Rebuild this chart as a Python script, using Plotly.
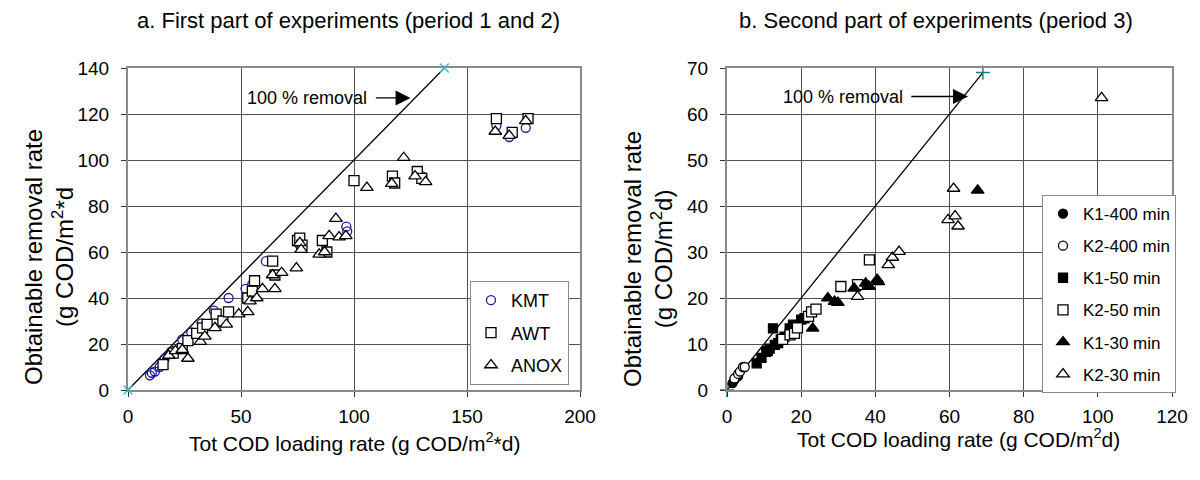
import plotly.graph_objects as go

# ---------------- data: left panel (period 1 and 2) ----------------
kmt_x = [9.7, 10.5, 11.9, 14, 16.3, 20, 24, 28, 32.6, 38, 44.5, 52, 55, 61, 76, 96.6, 97, 130, 163, 168.7, 176]
kmt_y = [6.4, 7.5, 8, 10, 13.7, 17, 22, 25, 29, 34.5, 40, 44, 46, 56, 63, 71, 69, 93, 115, 110, 114]

awt_x = [15.5, 20, 24, 26.5, 30.4, 33, 35, 39, 42, 44.5, 53, 55, 56, 64, 65, 75, 76, 77, 86, 88,
         100, 117, 118, 128, 130, 163, 170, 177]
awt_y = [11, 16, 18, 21.5, 24.6, 27, 28.5, 33, 30, 34, 40, 43, 47.5, 56, 50, 65, 66, 63, 65, 60,
         91, 93, 90, 95, 92, 118, 112, 118]

anox_x = [18, 21, 24, 26.5, 32, 34, 38.5, 43.5, 49, 53, 54, 57, 59.5, 64, 65, 68, 74.5, 76, 76.6,
          84.6, 87, 89, 92, 93.4, 96.4, 105.7, 116.7, 122, 127, 131.7, 162.5, 168.7, 176]
anox_y = [15, 17, 17.5, 13.7, 21, 23.3, 27, 28.5, 33, 34, 38.6, 40, 44, 50, 44, 51, 53, 64, 61,
          59, 60, 67, 74.5, 66.5, 67, 88, 89.7, 101, 93, 90.5, 112.4, 110.6, 117]

line_a = [0, 140]

# ---------------- data: right panel (period 3) ----------------
k1_400_x = [1.5, 2.0, 2.5, 3.0]
k1_400_y = [1.5, 2.2, 2.8, 3.0]
k2_400_x = [2.0, 3.0, 3.5, 4.3, 4.8]
k2_400_y = [2.5, 3.5, 4.0, 5.0, 5.0]

k1_50_x = [8, 9.3, 10.6, 11.5, 12.4, 12.9, 13.8, 15.5, 16.9, 17.8, 20, 20.9, 11, 14.5, 18.5]
k1_50_y = [5.8, 7, 8.3, 9, 13.4, 9.8, 10.2, 11.6, 13.4, 14.2, 15.3, 15.6, 8.5, 11, 13.8]

k2_50_x = [15, 17, 18.2, 19, 22, 22.8, 24, 30.7, 35.2, 38.4]
k2_50_y = [11, 12, 12.3, 13.5, 16, 17, 17.6, 22.5, 22.9, 28.3]

k1_30_x = [23.1, 27.2, 29, 29.9, 34.3, 37.4, 38.3, 40.5, 40.8, 67.6]
k1_30_y = [13.4, 20, 19.2, 19, 22.1, 23.2, 22.5, 24, 23.5, 43.4]

k2_30_x = [35.2, 43.5, 44.6, 46.4, 59.6, 61.1, 61.5, 62.3, 101]
k2_30_y = [20.3, 27.2, 28.8, 30.1, 37, 43.8, 37.8, 35.6, 63.5]

line_b = [0, 69]

FONT = "Liberation Sans, Arial, sans-serif"
GRID = "#505050"
FRAME = "#8a8a8a"
OFF = 8  # page body margin in px


def px_x(p):
    return (p - OFF) / 1200.0


def px_y(p):
    return 1 - (p - OFF) / 480.0


fig = go.Figure()


def add(x, y, name, symbol, color, fill, size, xa, ya, legend):
    fig.add_trace(go.Scatter(
        x=x, y=y, mode="markers", name=name, xaxis=xa, yaxis=ya,
        legend=legend, legendgroup=name, cliponaxis=False,
        marker=dict(symbol=symbol, size=size, color=fill,
                    line=dict(color=color, width=1.3))))


# 100 % lines
fig.add_trace(go.Scatter(x=line_a, y=line_a, mode="lines+markers", showlegend=False,
                         xaxis="x", yaxis="y", cliponaxis=False,
                         line=dict(color="black", width=1.3),
                         marker=dict(symbol="x-thin", size=9, color="#20d0e0",
                                     line=dict(color="#20d0e0", width=1.5))))
fig.add_trace(go.Scatter(x=line_b, y=line_b, mode="lines+markers", showlegend=False,
                         xaxis="x2", yaxis="y2", cliponaxis=False,
                         line=dict(color="black", width=1.3),
                         marker=dict(symbol="cross-thin", size=10, color="#108080",
                                     line=dict(color="#108080", width=1.5))))

add(kmt_x, kmt_y, "KMT", "circle", "#1a1a99", "rgba(255,255,255,0)", 9, "x", "y", "legend")
add(awt_x, awt_y, "AWT", "square", "black", "white", 10, "x", "y", "legend")
add(anox_x, anox_y, "ANOX", "triangle-up", "black", "white", 11, "x", "y", "legend")

add(k1_400_x, k1_400_y, "K1-400 min", "circle", "black", "black", 9, "x2", "y2", "legend2")
add(k2_400_x, k2_400_y, "K2-400 min", "circle", "black", "white", 9, "x2", "y2", "legend2")
add(k1_50_x, k1_50_y, "K1-50 min", "square", "black", "black", 9, "x2", "y2", "legend2")
add(k2_50_x, k2_50_y, "K2-50 min", "square", "black", "white", 10, "x2", "y2", "legend2")
add(k1_30_x, k1_30_y, "K1-30 min", "triangle-up", "black", "black", 11, "x2", "y2", "legend2")
add(k2_30_x, k2_30_y, "K2-30 min", "triangle-up", "black", "white", 11, "x2", "y2", "legend2")

ax_common = dict(showgrid=True, gridcolor=GRID, gridwidth=1, showline=True, mirror=True,
                 linecolor=FRAME, linewidth=2, ticks="outside", ticklen=5, tickcolor="#333",
                 zeroline=False, tickfont=dict(family=FONT, size=19, color="black"),
                 automargin=False, fixedrange=True)

ydom = [px_y(390), px_y(68)]
fig.update_layout(
    width=1200, height=480,
    margin=dict(l=0, r=0, t=0, b=0),
    paper_bgcolor="white", plot_bgcolor="white",
    font=dict(family=FONT, size=16, color="black"),
    xaxis=dict(domain=[px_x(128), px_x(580)], range=[0, 200], dtick=50, anchor="y",
               ticklabelstandoff=3, **ax_common),
    yaxis=dict(domain=ydom, range=[0, 140], dtick=20, anchor="x",
               ticklabelstandoff=8, **ax_common),
    xaxis2=dict(domain=[px_x(727), px_x(1172)], range=[0, 120], dtick=20, anchor="y2",
                ticklabelstandoff=3, **ax_common),
    yaxis2=dict(domain=ydom, range=[0, 70], dtick=10, anchor="x2",
                ticklabelstandoff=8, **ax_common),
    legend=dict(x=px_x(470), y=px_y(281), xanchor="left", yanchor="top", bgcolor="white",
                bordercolor=FRAME, borderwidth=1, font=dict(family=FONT, size=18),
                tracegroupgap=6, itemsizing="trace", itemwidth=30),
    legend2=dict(x=px_x(1042), y=px_y(195), xanchor="left", yanchor="top", bgcolor="white",
                 bordercolor=FRAME, borderwidth=1, font=dict(family=FONT, size=17),
                 tracegroupgap=7, itemsizing="trace", itemwidth=30),
)

ann = []
# panel titles
ann.append(dict(text="a. First part of experiments (period 1 and 2)", x=px_x(348), y=px_y(20),
                xref="paper", yref="paper", xanchor="center", yanchor="middle",
                showarrow=False, font=dict(size=22)))
ann.append(dict(text="b. Second part of experiments (period 3)", x=px_x(936), y=px_y(20),
                xref="paper", yref="paper", xanchor="center", yanchor="middle",
                showarrow=False, font=dict(size=22)))
# axis titles
ann.append(dict(text="Tot COD loading rate (g COD/m<sup>2</sup>*d)", x=px_x(354), y=px_y(442),
                xref="paper", yref="paper", xanchor="center", yanchor="middle",
                showarrow=False, font=dict(size=21)))
ann.append(dict(text="Tot COD loading rate (g COD/m<sup>2</sup>d)", x=px_x(958), y=px_y(438),
                xref="paper", yref="paper", xanchor="center", yanchor="middle",
                showarrow=False, font=dict(size=21)))
ann.append(dict(text="Obtainable removal rate<br>(g COD/m<sup>2</sup>*d", x=px_x(49), y=px_y(257),
                xref="paper", yref="paper", xanchor="center", yanchor="middle",
                showarrow=False, textangle=-90, font=dict(size=24)))
ann.append(dict(text="Obtainable removal rate<br>(g COD/m<sup>2</sup>d)", x=px_x(648), y=px_y(259),
                xref="paper", yref="paper", xanchor="center", yanchor="middle",
                showarrow=False, textangle=-90, font=dict(size=24)))
# 100 % removal labels + arrows
ann.append(dict(text="100 % removal", x=79, y=127, xref="x", yref="y", showarrow=False,
                font=dict(size=18)))
ann.append(dict(text="", x=125, y=127, ax=109, ay=127, xref="x", yref="y", axref="x", ayref="y",
                showarrow=True, arrowhead=2, arrowsize=2.3, arrowwidth=1.3, arrowcolor="black"))
ann.append(dict(text="100 % removal", x=31.4, y=63.8, xref="x2", yref="y2", showarrow=False,
                font=dict(size=18)))
ann.append(dict(text="", x=65, y=63.8, ax=49.3, ay=63.8, xref="x2", yref="y2", axref="x2",
                ayref="y2", showarrow=True, arrowhead=2, arrowsize=2.3, arrowwidth=1.3,
                arrowcolor="black"))
fig.update_layout(annotations=ann)

fig.write_html("out.html")
